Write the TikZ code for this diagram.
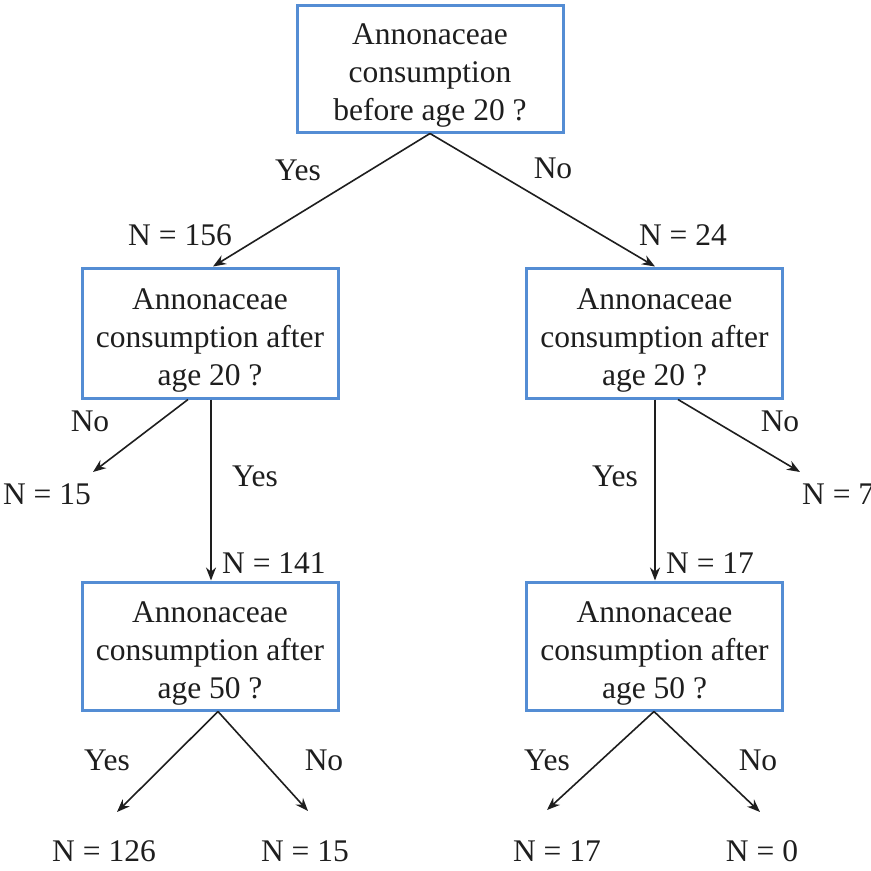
\documentclass[tikz,border=0pt]{standalone}
\usepackage{fontspec}
\setmainfont{Liberation Serif}
\usetikzlibrary{arrows.meta}
\definecolor{boxblue}{RGB}{84,141,212}
\definecolor{ink}{RGB}{30,30,30}
\begin{document}
\begin{tikzpicture}[x=1pt,y=-1pt,
  qbox/.style={draw=boxblue,line width=3pt,fill=white,inner sep=0pt},
  qtext/.style={align=center,inner sep=0pt,font=\fontsize{31.5}{38}\selectfont,text=ink},
  lab/.style={font=\fontsize{31.5}{36}\selectfont,text=ink,inner sep=0pt},
  arr/.style={draw=ink,line width=1.6pt,-{Stealth[length=13pt,width=10pt]}}]
\useasboundingbox[fill=white] (0,0) rectangle (871,871);
% boxes
\node[qbox,minimum width=266pt,minimum height=127pt] (q0) at (430,68.5) {};
\node[qbox,minimum width=256pt,minimum height=130pt] (q1) at (210,333) {};
\node[qbox,minimum width=256pt,minimum height=130pt] (q2) at (654.5,333) {};
\node[qbox,minimum width=256pt,minimum height=128pt] (q3) at (210,646) {};
\node[qbox,minimum width=256pt,minimum height=128pt] (q4) at (654.5,646) {};
% box texts
\node[qtext] (q0t) at ([yshift=-7pt]q0.center) {Annonaceae\\consumption\\before age 20 ?};
\node[qtext] (q1t) at ([yshift=-7pt]q1.center) {Annonaceae\\consumption after\\age 20 ?};
\node[qtext] (q2t) at ([yshift=-7pt]q2.center) {Annonaceae\\consumption after\\age 20 ?};
\node[qtext] (q3t) at ([yshift=-7pt]q3.center) {Annonaceae\\consumption after\\age 50 ?};
\node[qtext] (q4t) at ([yshift=-7pt]q4.center) {Annonaceae\\consumption after\\age 50 ?};
% free ends
\coordinate (t15a) at (93,472);
\coordinate (t7) at (800,472);
\coordinate (t126) at (117,812);
\coordinate (t15b) at (308,811);
\coordinate (t17b) at (547,810);
\coordinate (t0) at (760,812);
% connectors
\draw[arr] (q0.south) -- ([xshift=3pt]q1.north);
\draw[arr] (q0.south) -- ([xshift=0.5pt]q2.north);
\draw[arr] ([xshift=-22pt]q1.south) -- (t15a);
\draw[arr] ([xshift=1pt]q1.south) -- ([xshift=1pt]q3.north);
\draw[arr] ([xshift=0.5pt]q2.south) -- ([xshift=0.5pt]q4.north);
\draw[arr] ([xshift=23.5pt]q2.south) -- (t7);
\draw[arr] ([xshift=8pt]q3.south) -- (t126);
\draw[arr] ([xshift=8pt]q3.south) -- (t15b);
\draw[arr] ([xshift=-0.5pt]q4.south) -- (t17b);
\draw[arr] ([xshift=-0.5pt]q4.south) -- (t0);
% labels
\node[lab] (l1) at (298,170) {Yes};
\node[lab] (l2) at (553,168) {No};
\node[lab] (l3) at (180,235) {N = 156};
\node[lab] (l4) at (683,235) {N = 24};
\node[lab] (l5) at (90,421) {No};
\node[lab] (n15a) at (47,494) {N = 15};
\node[lab] (l6) at (255,476) {Yes};
\node[lab,anchor=west] (l7) at (222,563) {N = 141};
\node[lab] (l8) at (615,476) {Yes};
\node[lab,anchor=west] (l9) at (666,563) {N = 17};
\node[lab] (l10) at (780,421) {No};
\node[lab,anchor=west] (n7) at (802,494) {N = 7};
\node[lab] (l11) at (107,760) {Yes};
\node[lab] (l12) at (324,760) {No};
\node[lab] (n126) at (104,851) {N = 126};
\node[lab] (n15b) at (305,851) {N = 15};
\node[lab] (l13) at (547,760) {Yes};
\node[lab] (l14) at (758,760) {No};
\node[lab] (n17b) at (557,851) {N = 17};
\node[lab] (n0) at (762,851) {N = 0};
\end{tikzpicture}
\end{document}
